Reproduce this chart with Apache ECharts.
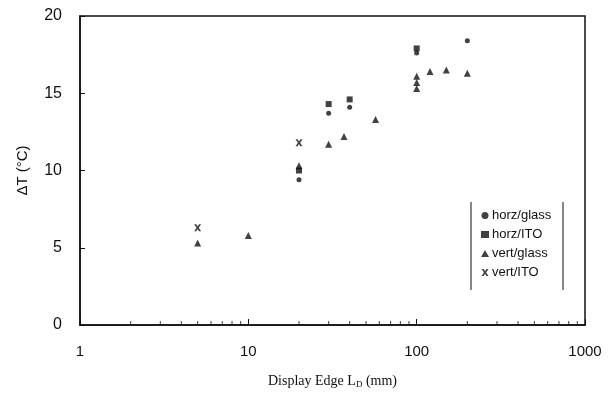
<!DOCTYPE html>
<html>
<head>
<meta charset="utf-8">
<script src="https://cdn.jsdelivr.net/npm/echarts@6/dist/echarts.min.js"></script>
<style>
  html, body { margin: 0; padding: 0; background: #fff; }
  #chart { width: 611px; height: 406px; }
</style>
</head>
<body>
<div id="chart"></div>
<script>
// values: [display edge (mm), delta T (C)]
var horzGlass = [[20, 9.4], [30, 13.7], [40, 14.1], [100, 17.6], [200, 18.4]];
var horzITO = [[20, 10.0], [30, 14.3], [40, 14.6], [100, 17.9]];
var vertGlass = [[5, 5.3], [10, 5.8], [20, 10.3], [30, 11.7], [37, 12.2], [57, 13.3],
                 [100, 15.3], [100, 15.7], [100, 16.1], [120, 16.4], [150, 16.5], [200, 16.3]];
var vertITO = [[5, 6.3], [20, 11.8]];

var seriesNames = ['horz/glass', 'horz/ITO', 'vert/glass', 'vert/ITO'];
var yTicks = [0, 5, 10, 15, 20];
var xTicks = [1, 10, 100, 1000];

// small minor ticks along the log axis
var minorTicks = [];
[1, 10, 100].forEach(function (d) {
  for (var k = 2; k <= 9; k++) minorTicks.push([k * d, 0]);
});

var crossPath = 'path://M0,0L3,0L5,3.2L7,0L10,0L6.6,5L10,10L7,10L5,6.8L3,10L0,10L3.4,5Z';

var chart = echarts.init(document.getElementById('chart'));
var ink = '#111';

chart.setOption({
  animation: false,
  grid: { left: 80, right: 26, top: 16, bottom: 81, show: true, borderColor: ink, borderWidth: 1.5 },
  legend: {
    orient: 'vertical',
    left: 476,
    top: 204,
    itemGap: 6,
    itemWidth: 8,
    itemHeight: 7,
    data: seriesNames,
    textStyle: { fontFamily: 'Liberation Sans', fontSize: 13, color: ink, padding: [0, 0, 0, -2] }
  },
  xAxis: {
    type: 'log',
    logBase: 10,
    min: 1,
    max: 1000,
    name: '{a|Display Edge L}{s|D}{a| (mm)}',
    nameLocation: 'middle',
    nameGap: 48,
    nameTextStyle: {
      rich: {
        a: { fontFamily: 'Liberation Serif', fontSize: 14, color: ink },
        s: { fontFamily: 'Liberation Serif', fontSize: 9, color: ink, padding: [7, 0, 0, 0] }
      }
    },
    axisLine: { lineStyle: { color: ink, width: 1.5 } },
    axisTick: { inside: true, length: 6, lineStyle: { color: ink } },
    axisLabel: { fontFamily: 'Liberation Sans', fontSize: 15, color: ink, margin: 19,
      formatter: function (v) {
        var hit = xTicks.filter(function (t) { return Math.abs(t - v) < 1e-6 * t; });
        return hit.length ? String(hit[0]) : '';
      } },
    splitLine: { show: false }
  },
  yAxis: {
    type: 'value',
    min: 0,
    max: 20,
    interval: 5,
    name: 'ΔT (°C)',
    nameLocation: 'middle',
    nameGap: 50,
    nameTextStyle: { fontFamily: 'Liberation Sans', fontSize: 15, color: ink },
    axisLine: { lineStyle: { color: ink, width: 1.5 } },
    axisTick: { inside: true, length: 5, lineStyle: { color: ink } },
    axisLabel: { fontFamily: 'Liberation Sans', fontSize: 16, color: ink, margin: 18,
      formatter: function (v) { return yTicks.indexOf(v) >= 0 ? String(v) : ''; } },
    splitLine: { show: false }
  },
  graphic: [
    { type: 'line', shape: { x1: 471, y1: 202, x2: 471, y2: 290 }, style: { stroke: ink, lineWidth: 1 } },
    { type: 'line', shape: { x1: 563, y1: 202, x2: 563, y2: 290 }, style: { stroke: ink, lineWidth: 1 } }
  ],
  series: [
    { name: 'horz/glass', type: 'scatter', symbol: 'circle', symbolSize: 5, data: horzGlass,
      itemStyle: { color: ink } },
    { name: 'horz/ITO', type: 'scatter', symbol: 'rect', symbolSize: 6, data: horzITO,
      itemStyle: { color: ink } },
    { name: 'vert/glass', type: 'scatter', symbol: 'triangle', symbolSize: 7, data: vertGlass,
      itemStyle: { color: ink } },
    { name: 'vert/ITO', type: 'scatter', symbol: crossPath, symbolSize: 7, data: vertITO,
      itemStyle: { color: ink } },
    { type: 'scatter', symbol: 'rect', symbolSize: [1, 4], symbolOffset: [0, -2], data: minorTicks,
      itemStyle: { color: ink }, silent: true, legendHoverLink: false, tooltip: { show: false } }
  ]
});
</script>
</body>
</html>
